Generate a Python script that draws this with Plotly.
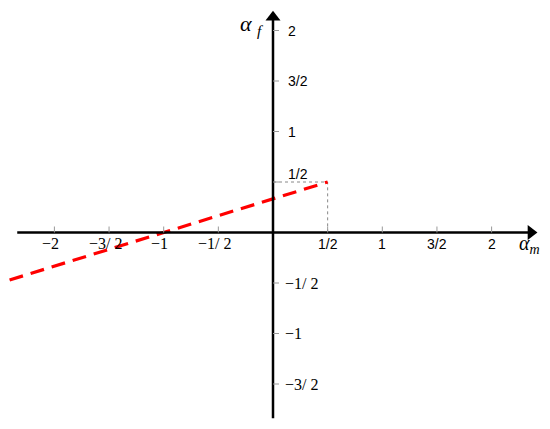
import plotly.graph_objects as go

# red dashed line alpha_f = (alpha_m + 1) / 3
line_x = [-2.41, -1.0, 0.5]
line_y = [-0.47, 0.0, 0.5]

# dotted guide to the point (1/2, 1/2)
guide_x = [0.0, 0.5, 0.5]
guide_y = [0.5, 0.5, 0.0]

x_ticks = [-2, -1.5, -1, -0.5, 0.5, 1, 1.5, 2]
x_labels = ["−2", "−3/ 2", "−1", "−1/ 2", "1/2", "1", "3/2", "2"]
y_ticks = [2, 1.5, 1, 0.5, -0.5, -1, -1.5]
y_labels = ["2", "3/2", "1", "1/2", "−1/ 2", "−1", "−3/ 2"]

x_axis_ends = [-2.34, 2.36]
y_axis_ends = [-1.84, 2.13]

fig = go.Figure()

fig.add_trace(go.Scatter(
    x=guide_x, y=guide_y, mode="lines",
    line=dict(color="#888888", width=1, dash="dot"),
    hoverinfo="skip",
))
fig.add_trace(go.Scatter(
    x=line_x, y=line_y, mode="lines",
    line=dict(color="#ff0000", width=3.2, dash="14px,8px"),
    hoverinfo="skip",
))

# axes as plain lines, arrowheads as triangle markers at the tips
fig.add_trace(go.Scatter(
    x=x_axis_ends, y=[0, 0], mode="lines",
    line=dict(color="black", width=2.5), hoverinfo="skip",
))
fig.add_trace(go.Scatter(
    x=[0, 0], y=y_axis_ends, mode="lines",
    line=dict(color="black", width=2.5), hoverinfo="skip",
))
fig.add_trace(go.Scatter(
    x=[x_axis_ends[1], 0], y=[0, y_axis_ends[1]], mode="markers",
    marker=dict(symbol=["triangle-right", "triangle-up"], size=13, color="black"),
    hoverinfo="skip",
))

shapes = []
annotations = []

# small tick marks on the positive side of each axis
for t in x_ticks:
    shapes.append(dict(
        type="line", xref="x", yref="y", ysizemode="pixel", yanchor=0,
        x0=t, x1=t, y0=0, y1=6, line=dict(color="#999999", width=1),
    ))
for t in y_ticks:
    shapes.append(dict(
        type="line", xref="x", yref="y", xsizemode="pixel", xanchor=0,
        x0=0, x1=6, y0=t, y1=t, line=dict(color="#999999", width=1),
    ))

sans = dict(family="Liberation Sans, Arial", size=14, color="black")
serif = dict(family="Liberation Serif, Times New Roman", size=16, color="black")

for t, lab in zip(x_ticks, x_labels):
    neg = t < 0
    annotations.append(dict(
        x=t, y=0, xref="x", yref="y", text=lab, showarrow=False,
        xanchor="center", yanchor="middle", yshift=-11,
        xshift=-4 if neg else 0, font=serif if neg else sans,
    ))
for t, lab in zip(y_ticks, y_labels):
    neg = t < 0
    annotations.append(dict(
        x=0, y=t, xref="x", yref="y", text=lab, showarrow=False,
        xanchor="left", yanchor="middle", xshift=10 if neg else 13,
        yshift=8 if t == 0.5 else 0, font=serif if neg else sans,
    ))

# axis names
annotations.append(dict(
    x=0, y=y_axis_ends[1], xref="x", yref="y", showarrow=False,
    text="<i>α</i> <sub><i>f</i></sub>", xanchor="right", yanchor="middle",
    xshift=-7, yshift=-8,
    font=dict(family="Liberation Serif, Times New Roman", size=22, color="black"),
))
annotations.append(dict(
    x=x_axis_ends[1], y=0, xref="x", yref="y", showarrow=False,
    text="<i>α</i><sub><i>m</i></sub>", xanchor="center", yanchor="middle",
    xshift=-1, yshift=-12,
    font=dict(family="Liberation Serif, Times New Roman", size=20, color="black"),
))

# the page body adds an 8px margin, so the ranges are shifted to compensate
fig.update_layout(
    width=550, height=429,
    margin=dict(l=0, r=0, t=0, b=0),
    paper_bgcolor="white", plot_bgcolor="white",
    showlegend=False,
    xaxis=dict(visible=False, range=[-2.4245, 2.6075], fixedrange=True),
    yaxis=dict(visible=False, range=[-2.0248, 2.2228], fixedrange=True),
    shapes=shapes, annotations=annotations,
)

fig.write_html("out.html")
